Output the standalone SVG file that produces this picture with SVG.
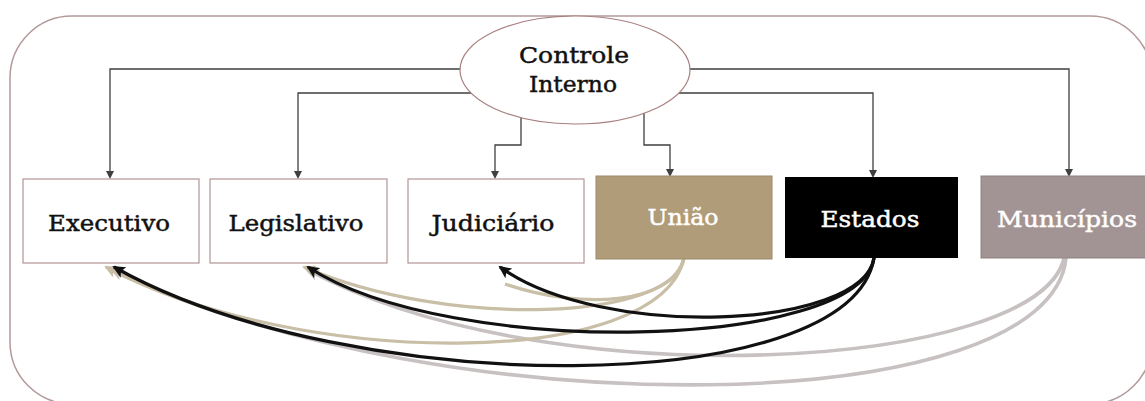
<svg xmlns="http://www.w3.org/2000/svg" width="1145" height="401" viewBox="0 0 1145 401">
<defs>
<style>
.box{stroke:#b39494;stroke-width:1.2;fill:#fff}
.lbl{font-family:"DejaVu Serif","Liberation Serif",serif;font-size:22px;text-anchor:middle;stroke-width:0.45}
.dk{fill:#111;stroke:#111}
.wt{fill:#fff;stroke:#fff}
.conn{fill:none;stroke:#3f3f3f;stroke-width:1.3}
.tan{fill:none;stroke:#c9bea6;stroke-width:3.2}
.blk{fill:none;stroke:#111;stroke-width:3.2}
.gry{fill:none;stroke:#c8c1c1;stroke-width:3.6}
</style>
<marker id="mt" markerWidth="13" markerHeight="12" refX="11" refY="6" orient="auto" markerUnits="userSpaceOnUse"><path d="M0,0 L13,6 L0,12 L3,6 Z" fill="#c9bea6"/></marker>
<marker id="mb" markerWidth="13" markerHeight="12" refX="11" refY="6" orient="auto" markerUnits="userSpaceOnUse"><path d="M0,0 L13,6 L0,12 L3,6 Z" fill="#111"/></marker>
<marker id="mg" markerWidth="13" markerHeight="12" refX="11" refY="6" orient="auto" markerUnits="userSpaceOnUse"><path d="M0,0 L13,6 L0,12 L3,6 Z" fill="#c8c1c1"/></marker>
</defs>
<rect x="0" y="0" width="1145" height="401" fill="#fff"/>
<rect id="frame" x="10" y="16" width="1142" height="388" rx="62" ry="62" fill="none" stroke="#b39a9a" stroke-width="1.5"/>

<g id="connectors">
<path class="conn" d="M462,69 H110 V172"/>
<path class="conn" d="M472,93 H298 V172"/>
<path class="conn" d="M521,112 V145 H495 V171"/>
<path class="conn" d="M644,112 V145 H670 V169"/>
<path class="conn" d="M688,69 H1069 V169"/>
<path class="conn" d="M678,93 H873 V170"/>
<path d="M106,171 H114 L110,179 Z" fill="#3f3f3f"/>
<path d="M294,171 H302 L298,179 Z" fill="#3f3f3f"/>
<path d="M491,171 H499 L495,179 Z" fill="#3f3f3f"/>
<path d="M666,169 H674 L670,177 Z" fill="#3f3f3f"/>
<path d="M869,170 H877 L873,178 Z" fill="#3f3f3f"/>
<path d="M1065,169 H1073 L1069,177 Z" fill="#3f3f3f"/>

<path class="gry" d="M1066,258 C1050,420 450,430 112,270" marker-end="url(#mg)"/>
<path class="gry" d="M1064,258 C1040,370 550,400 308,270" marker-end="url(#mg)"/>
<path class="tan" d="M684,258 C675,320 450,330 304,267" marker-end="url(#mt)"/>
<path class="tan" d="M684,258 C660,370 300,370 106,267" marker-end="url(#mt)"/>
<path class="tan" d="M684,258 C672,305 580,310 505,284"/>
<path class="blk" d="M874,258 C862,330 600,340 500,267" marker-end="url(#mb)"/>
<path class="blk" d="M874,258 C860,350 450,360 308,267" marker-end="url(#mb)"/>
<path class="blk" d="M874,258 C850,400 350,400 114,267" marker-end="url(#mb)"/>
</g>

<g id="controle">
<ellipse cx="575" cy="70" rx="115" ry="54" fill="#fff" stroke="#a87f7f" stroke-width="1.2"/>
<text class="lbl dk" x="574" y="63" textLength="110" lengthAdjust="spacingAndGlyphs">Controle</text>
<text class="lbl dk" x="573" y="92" textLength="88" lengthAdjust="spacingAndGlyphs">Interno</text>
</g>
<g id="executivo">
<rect class="box" x="23" y="179" width="176" height="84"/>
<text class="lbl dk" x="109" y="231" textLength="122" lengthAdjust="spacingAndGlyphs">Executivo</text>
</g>
<g id="legislativo">
<rect class="box" x="210" y="179" width="177" height="84"/>
<text class="lbl dk" x="296" y="231" textLength="135" lengthAdjust="spacingAndGlyphs">Legislativo</text>
</g>
<g id="judiciario">
<rect class="box" x="408" y="179" width="176" height="84"/>
<text class="lbl dk" x="493" y="231" textLength="123" lengthAdjust="spacingAndGlyphs">Judiciário</text>
</g>
<g id="uniao">
<rect x="596" y="176" width="176" height="83" fill="#b09c79" stroke="#9c8a6c" stroke-width="1"/>
<text class="lbl wt" x="683" y="225" textLength="71" lengthAdjust="spacingAndGlyphs">União</text>
</g>
<g id="estados">
<rect x="785" y="177" width="173" height="81" fill="#000"/>
<text class="lbl wt" x="870" y="227" textLength="99" lengthAdjust="spacingAndGlyphs">Estados</text>
</g>
<g id="municipios">
<rect x="981" y="176" width="180" height="82" fill="#a29494" stroke="#8f8282" stroke-width="1"/>
<text class="lbl wt" x="1067" y="227" textLength="140" lengthAdjust="spacingAndGlyphs">Municípios</text>
</g>
</svg>
